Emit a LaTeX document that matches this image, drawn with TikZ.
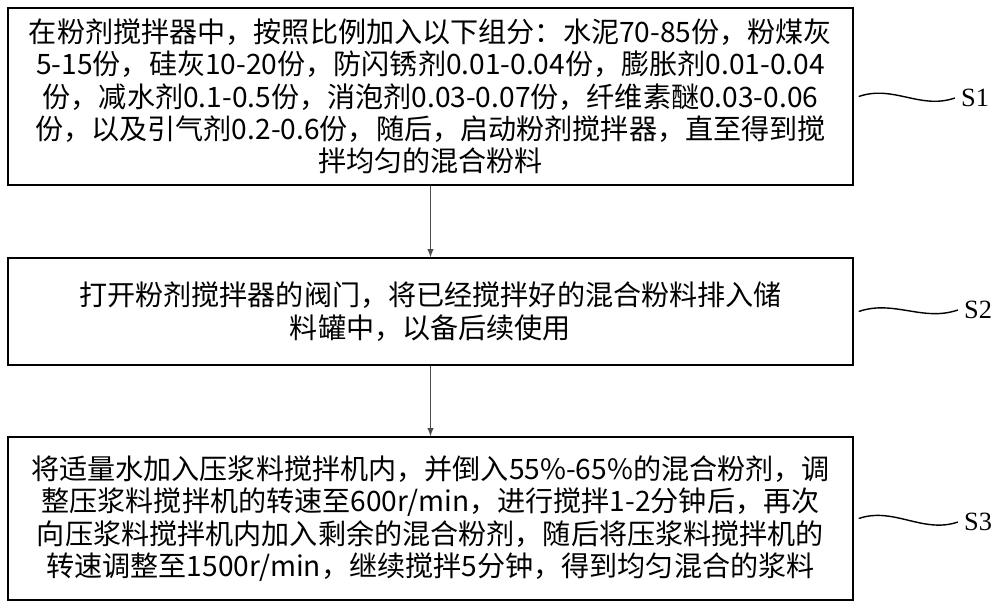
\documentclass[tikz,border=0pt]{standalone}
\usepackage{fontspec}
\setmainfont{Liberation Serif}
\newfontfamily\cjk{Noto Sans CJK SC}
\begin{document}
\begin{tikzpicture}[x=0.02cm,y=-0.02cm,
  box/.style={draw,line width=0.8pt,minimum width=845*0.02cm,inner sep=0pt,font=\cjk\fontsize{16}{18.4}\selectfont,align=center},
  lab/.style={font=\fontsize{15}{18}\selectfont},
  wave/.style={line width=0.8pt},
  arr/.style={-latex,line width=0.6pt,draw=black!70}]
\useasboundingbox (0,0) rectangle (1000,608);
\node[box,minimum height=177*0.02cm] (b1) at (430.5,96.5) {在粉剂搅拌器中，按照比例加入以下组分：水泥70-85份，粉煤灰\\5-15份，硅灰10-20份，防闪锈剂0.01-0.04份，膨胀剂0.01-0.04\\份，减水剂0.1-0.5份，消泡剂0.03-0.07份，纤维素醚0.03-0.06\\份，以及引气剂0.2-0.6份，随后，启动粉剂搅拌器，直至得到搅\\拌均匀的混合粉料};
\node[box,minimum height=107*0.02cm] (b2) at (430.5,311.5) {打开粉剂搅拌器的阀门，将已经搅拌好的混合粉料排入储\\料罐中，以备后续使用};
\node[box,minimum height=163*0.02cm] (b3) at (430.5,518.5) {将适量水加入压浆料搅拌机内，并倒入55\%-65\%的混合粉剂，调\\整压浆料搅拌机的转速至600r/min，进行搅拌1-2分钟后，再次\\向压浆料搅拌机内加入剩余的混合粉剂，随后将压浆料搅拌机的\\转速调整至1500r/min，继续搅拌5分钟，得到均匀混合的浆料};
\node[lab] (s1) at (975,98) {S1};
\node[lab] (s2) at (978,310) {S2};
\node[lab] (s3) at (978,522) {S3};
\draw[arr] (b1.south) -- (b2.north);
\draw[arr] (b2.south) -- (b3.north);
\draw[wave] (b1.east) ++(5,0) coordinate (w1) .. controls +(35,-12) and +(-35,12) .. (s1.west);
\draw[wave] (b2.east) ++(5,0) coordinate (w2) .. controls +(35,-12) and +(-35,12) .. (s2.west);
\draw[wave] (b3.east) ++(5,0) coordinate (w3) .. controls +(35,-12) and +(-35,12) .. (s3.west);
\end{tikzpicture}
\end{document}
